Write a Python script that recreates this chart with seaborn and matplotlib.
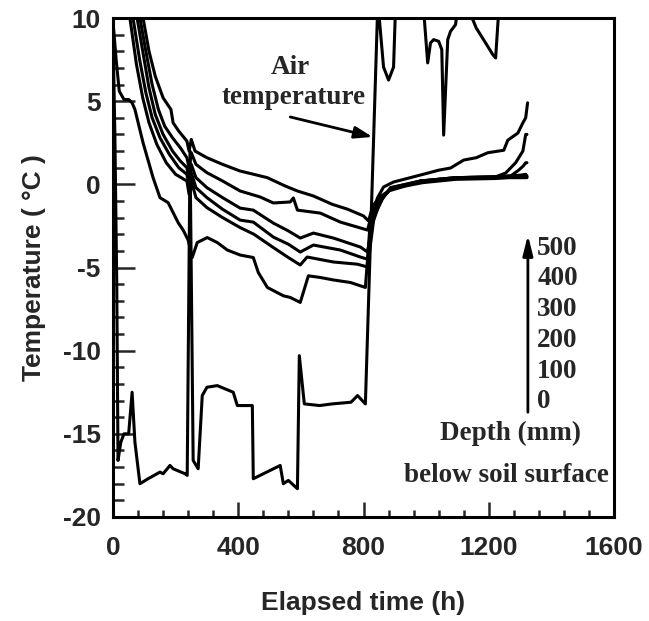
import numpy as np
import pandas as pd
import matplotlib
matplotlib.use("Agg")
import matplotlib.pyplot as plt
import seaborn as sns

# ---- data (elapsed time h, temperature degC) ----
air_h = [0, 6, 12, 16, 25, 35, 50, 61, 70, 86, 112, 150, 160, 182, 192, 230, 237, 246, 256, 272,
         285, 300, 333, 384, 397, 445, 448, 534, 544, 560, 589, 595, 611, 660, 700, 760, 781, 806,
         845, 848, 864, 880, 896, 902, 960, 992, 1005, 1014, 1024, 1040, 1050, 1056, 1069, 1078,
         1094, 1100, 1136, 1160, 1190, 1213, 1222, 1232, 1242, 1330]
air_T = [9.0, 3.0, -6.0, -16.6, -15.5, -15.0, -15.0, -12.5, -15.5, -18.0, -17.7, -17.3, -17.4, -16.9,
         -17.1, -17.4, -17.5, 2.0, -16.6, -17.1, -12.7, -12.2, -12.1, -12.5, -13.3, -13.3, -17.7,
         -16.9, -18.0, -17.8, -18.3, -10.3, -13.2, -13.3, -13.2, -13.1, -12.7, -13.2, 10.5, 10.5,
         7.05, 6.27, 7.05, 10.5, 12.0, 10.5, 7.3, 8.5, 8.7, 8.6, 8.1, 2.96, 8.7, 9.2, 9.6, 10.5,
         10.5, 9.4, 8.5, 7.8, 7.6, 10.5, 12.0, 12.0]

d0_h = [0, 10, 20, 35, 50, 61, 70, 96, 128, 150, 176, 192, 208, 224, 240, 253, 269, 301, 333, 365,
        406, 448, 464, 493, 544, 566, 598, 624, 662, 704, 758, 806, 815, 822, 845, 864, 896, 982,
        1040, 1078, 1120, 1160, 1197, 1248, 1261, 1293, 1309, 1318, 1324]
d0_T = [9.8, 7.5, 5.6, 5.1, 5.1, 4.9, 4.5, 2.5, 0.4, -0.8, -1.1, -1.7, -2.3, -2.75, -3.35, -4.4,
        -3.5, -3.2, -3.5, -3.95, -4.25, -4.4, -5.3, -6.2, -6.7, -6.8, -7.1, -5.5, -5.6, -5.75, -5.9,
        -6.2, -4.0, -2.1, -0.8, -0.16, 0.14, 0.56, 0.85, 0.98, 1.46, 1.6, 1.9, 2.05, 2.66, 3.08,
        3.7, 4.0, 4.9]

d100_h = [54, 75, 95, 115, 140, 170, 200, 236, 243, 250, 265, 300, 350, 406, 450, 512, 560, 598,
          620, 704, 780, 813, 832, 855, 886, 982, 1094, 1222, 1254, 1286, 1309, 1318, 1322]
d100_T = [10, 7.2, 5.2, 3.7, 2.4, 1.3, 0.6, 0.2, -0.6, 0.2, -0.8, -1.4, -2.0, -2.6, -3.0, -3.8,
          -4.4, -4.85, -4.37, -4.67, -4.8, -4.97, -2.2, -0.9, -0.3, 0.2, 0.4, 0.45, 0.68, 1.3, 2.0,
          3.0, 3.0]

d200_h = [64, 85, 105, 125, 150, 180, 210, 236, 243, 250, 265, 300, 350, 406, 448, 512, 560, 598,
          640, 726, 790, 813, 832, 860, 886, 982, 1094, 1222, 1270, 1296, 1310, 1318, 1322]
d200_T = [10, 7.5, 5.5, 4.0, 2.8, 1.8, 1.0, 0.6, -0.1, 0.7, -0.2, -0.8, -1.5, -2.15, -2.27, -3.17,
          -3.6, -4.07, -3.65, -3.95, -4.37, -4.5, -2.0, -0.9, -0.2, 0.2, 0.4, 0.45, 0.5, 0.86, 1.1,
          1.3, 1.3]

d300_h = [77, 95, 115, 135, 160, 190, 215, 236, 243, 250, 265, 300, 350, 406, 448, 512, 560, 598,
          640, 704, 790, 813, 832, 860, 890, 982, 1094, 1222, 1260, 1300, 1318, 1322]
d300_T = [10, 8, 5.8, 4.2, 3.0, 2.0, 1.4, 1.0, 0.3, 1.2, 0.4, -0.2, -0.8, -1.43, -1.55, -2.33,
          -2.8, -3.23, -2.93, -3.23, -3.77, -4.07, -1.8, -0.8, -0.2, 0.2, 0.4, 0.45, 0.5, 0.55, 0.6,
          0.5]

d400_h = [86, 105, 125, 145, 165, 190, 215, 236, 243, 250, 265, 300, 350, 406, 470, 512, 566, 576,
          589, 662, 726, 813, 830, 855, 886, 982, 1094, 1222, 1280, 1322]
d400_T = [10, 8, 6, 4.5, 3.5, 2.8, 2.2, 1.6, 1.0, 1.9, 1.2, 0.7, 0.2, -0.4, -0.76, -1.12, -1.06,
          -0.82, -1.55, -1.73, -2.27, -2.75, -1.5, -0.9, -0.3, 0.14, 0.35, 0.4, 0.45, 0.45]

d500_h = [96, 115, 135, 160, 185, 192, 210, 236, 243, 250, 262, 300, 350, 406, 450, 493, 550, 589,
          640, 700, 750, 800, 816, 830, 850, 880, 934, 989, 1094, 1222, 1264, 1322]
d500_T = [10, 8, 6.5, 5.2, 4.5, 3.7, 3.2, 2.6, 2.0, 2.7, 2.0, 1.6, 1.2, 0.8, 0.6, 0.4, -0.1, -0.4,
          -0.7, -1.2, -1.5, -1.9, -2.2, -1.3, -0.8, -0.4, -0.1, 0.1, 0.3, 0.35, 0.4, 0.4]

depth_labels = ["500", "400", "300", "200", "100", "0"]
x_ticks = [0, 400, 800, 1200, 1600]
y_ticks = [-20, -15, -10, -5, 0, 5, 10]

# ---- long-form table ----
series = {"air": (air_h, air_T), "0": (d0_h, d0_T), "100": (d100_h, d100_T),
          "200": (d200_h, d200_T), "300": (d300_h, d300_T), "400": (d400_h, d400_T),
          "500": (d500_h, d500_T)}
frames = [pd.DataFrame({"h": h, "T": t, "series": name}) for name, (h, t) in series.items()]
df = pd.concat(frames, ignore_index=True)

sns.set_theme(style="ticks")
plt.rcParams["font.family"] = ["Liberation Sans", "DejaVu Sans"]

fig = plt.figure(figsize=(6.49, 6.21), dpi=100)
ax = fig.add_axes([113 / 649, 1 - 517 / 621, 501 / 649, 499 / 621])

sns.lineplot(data=df, x="h", y="T", units="series", estimator=None, sort=False,
             color="black", linewidth=2.2, legend=False, ax=ax)

ax.set_xlim(0, 1600)
ax.set_ylim(-20, 10)
ax.set_xticks(x_ticks)
ax.set_yticks(y_ticks)
ax.set_xticks(np.arange(0, 1601, 80), minor=True)
ax.set_yticks(np.arange(-20, 11, 1), minor=True)
ax.set_xticklabels([str(v) for v in x_ticks], fontsize=19, fontweight="bold")
ax.set_yticklabels([str(v) for v in y_ticks], fontsize=19, fontweight="bold")
ax.tick_params(axis="y", which="major", direction="in", length=16, width=1.8, pad=9)
ax.tick_params(axis="y", which="minor", direction="in", length=8, width=1.8)
ax.tick_params(axis="x", which="major", direction="in", length=11, width=1.8, pad=14)
ax.tick_params(axis="x", which="minor", direction="in", length=5, width=1.8)
ax.tick_params(top=False, right=False, which="both")
for s in ax.spines.values():
    s.set_linewidth(2.2)
    s.set_color("black")

ax.set_xlabel("Elapsed time (h)", fontsize=19, fontweight="bold", labelpad=22)
ax.set_ylabel("Temperature ( \u00b0C )", fontsize=19, fontweight="bold", labelpad=12)

serif = ["Liberation Serif", "DejaVu Serif"]
fs = 19.5
ax.text(566, 7.05, "Air", family=serif, fontsize=fs, fontweight="bold", ha="center", va="center")
ax.text(576, 5.2, "temperature", family=serif, fontsize=fs, fontweight="bold", ha="center", va="center")
ax.annotate("", xy=(829, 2.85), xytext=(566, 4.05),
            arrowprops=dict(arrowstyle="-|>,head_width=0.3,head_length=0.9", lw=2, color="black",
                            shrinkA=0, shrinkB=0))

ax.annotate("", xy=(1325, -3.05), xytext=(1325, -13.7),
            arrowprops=dict(arrowstyle="-|>,head_width=0.25,head_length=1.0", lw=2, color="black",
                            shrinkA=0, shrinkB=0))
for i, lab in enumerate(depth_labels):
    ax.text(1355, -3.83 - i * 1.85, lab, family=serif, fontsize=fs, fontweight="bold",
            ha="left", va="center")
ax.text(1270, -14.95, "Depth (mm)", family=serif, fontsize=fs, fontweight="bold",
        ha="center", va="center")
ax.text(1585, -17.48, "below soil surface", family=serif, fontsize=fs, fontweight="bold",
        ha="right", va="center")

fig.savefig("out.png", dpi=100, facecolor="white")
